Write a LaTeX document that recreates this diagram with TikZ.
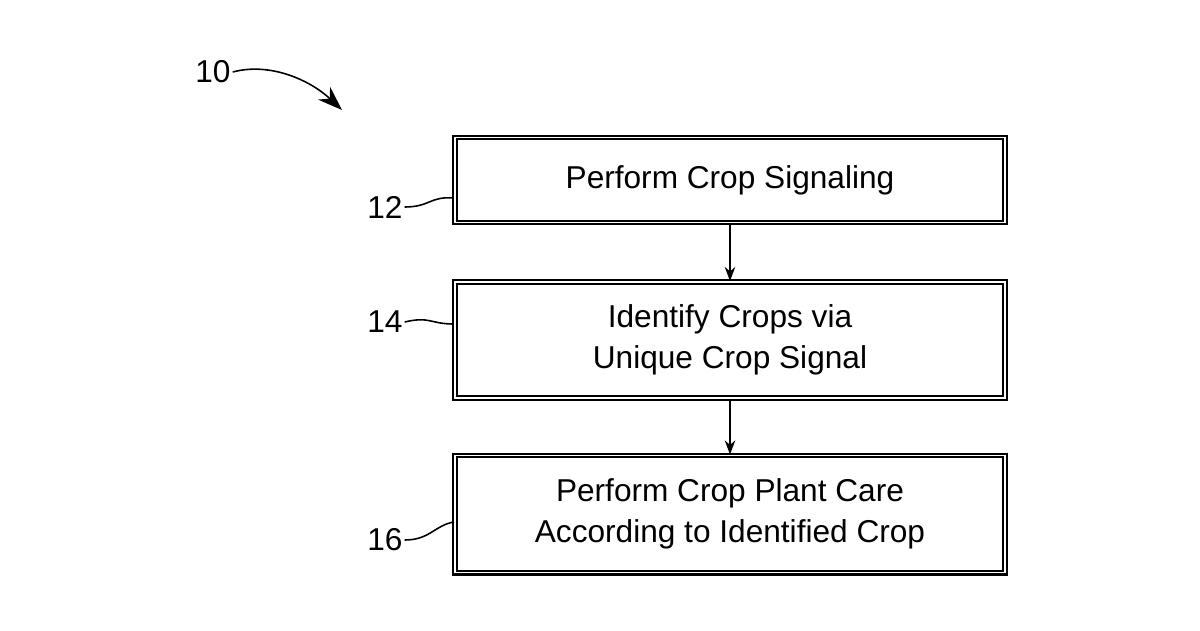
\documentclass[tikz,border=0pt]{standalone}
\usepackage{fontspec}
\setmainfont{Liberation Sans}
\usetikzlibrary{positioning,arrows.meta}

\begin{document}
\begin{tikzpicture}[x=0.02cm,y=-0.02cm,
  procbox/.style={draw, line width=1.2pt, double, double distance=1pt, minimum width=550*0.02cm, align=center, font=\fontsize{18}{23}\selectfont, inner sep=0pt},
  num/.style={font=\fontsize{18}{22}\selectfont, inner sep=1pt},
  flow/.style={-{Stealth[length=8pt,width=6pt]}, line width=0.9pt}]

\useasboundingbox (0,0) rectangle (1200,630);

% process steps
\node[procbox, minimum height=85*0.02cm] (signal) at (730,180) {Perform Crop Signaling};
\node[procbox, minimum height=116*0.02cm] (identify) at (730,340) {Identify Crops via\\Unique Crop Signal};
\node[procbox, minimum height=117*0.02cm] (care) at (730,514) {Perform Crop Plant Care\\According to Identified Crop};

\draw[flow] (signal) -- (identify);
\draw[flow] (identify) -- (care);

% reference numerals
\node[num] (n10) at (213,72) {10};
\coordinate (a10) at (342,110);
\draw[-{Stealth[length=14pt,width=10pt]}, line width=0.9pt] (n10.east) .. controls (270,62) and (310,80) .. (a10);

\node[num] (n12) at (385,207) {12};
\draw[line width=0.9pt] (n12.east) .. controls (430,207) and (430,196) .. (signal.west |- 0,198);
\node[num] (n14) at (385,322) {14};
\draw[line width=0.9pt] (n14.east) .. controls (430,316) and (430,324) .. (identify.west |- 0,324);
\node[num] (n16) at (385,540) {16};
\draw[line width=0.9pt] (n16.east) .. controls (430,540) and (435,525) .. (care.west |- 0,522);

\end{tikzpicture}
\end{document}
